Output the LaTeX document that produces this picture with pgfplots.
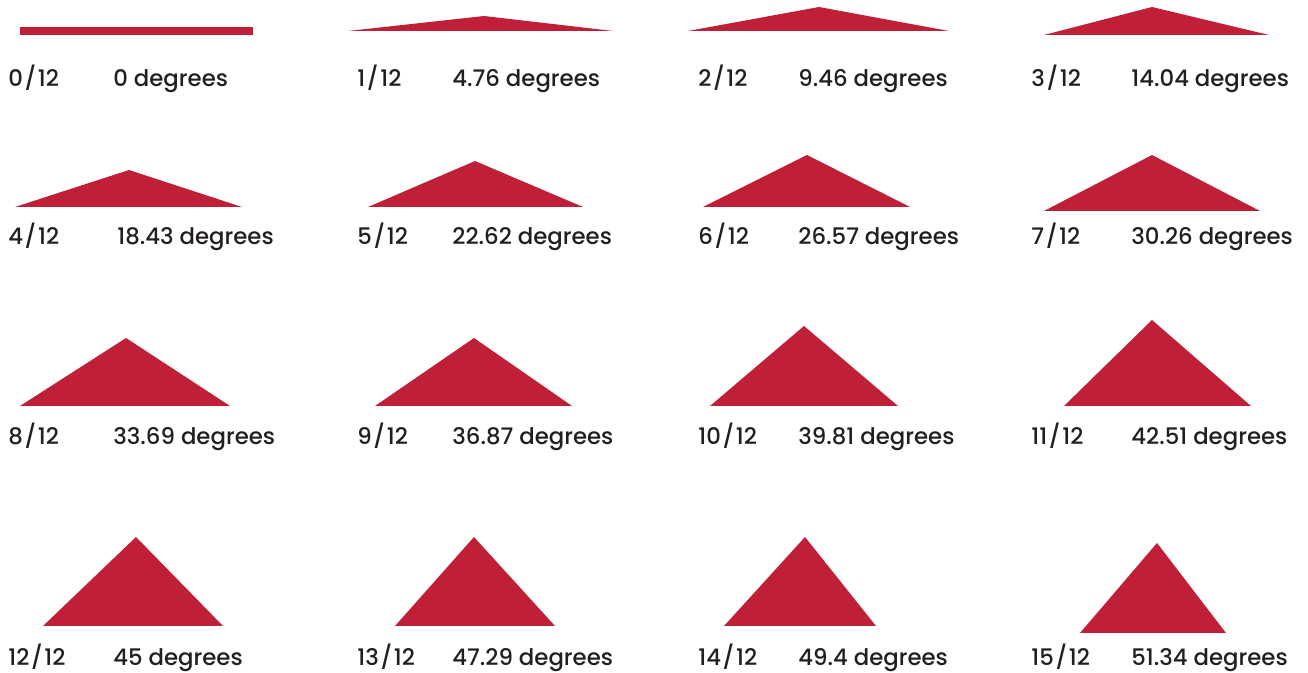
\documentclass[border=0pt]{standalone}
\usepackage{pgfplots}
\pgfplotsset{compat=1.18}
\usepackage{fontspec}
\setmainfont{Poppins Medium}
\definecolor{roofred}{HTML}{C01F38}
\definecolor{labelgray}{HTML}{231F20}
\newcommand{\slsh}{\kern0.8pt/\kern0.8pt}
\begin{document}
\begin{tikzpicture}
\begin{axis}[
    scale only axis,
    width=654pt, height=336.5pt,
    xmin=0, xmax=1308, ymin=0, ymax=673,
    y dir=reverse,
    hide axis,
    clip=false,
  ]
  % pitch shapes, pixel coordinates (y down)
  \addplot[fill=roofred, draw=none] coordinates {(20,27) (253,27) (253,35) (20,35)} --cycle;
  \addplot[fill=roofred, draw=none] coordinates {(348,31) (484,16) (613,31)} --cycle;
  \addplot[fill=roofred, draw=none] coordinates {(688,31) (819,7) (949,31)} --cycle;
  \addplot[fill=roofred, draw=none] coordinates {(1044,35) (1152,7) (1269,35)} --cycle;
  \addplot[fill=roofred, draw=none] coordinates {(15,207) (129,170) (242,207)} --cycle;
  \addplot[fill=roofred, draw=none] coordinates {(368,207) (475,161) (583,207)} --cycle;
  \addplot[fill=roofred, draw=none] coordinates {(703,207) (807,155) (910,207)} --cycle;
  \addplot[fill=roofred, draw=none] coordinates {(1044,211) (1152,155) (1260,211)} --cycle;
  \addplot[fill=roofred, draw=none] coordinates {(20,406) (126,338) (230,406)} --cycle;
  \addplot[fill=roofred, draw=none] coordinates {(375,406) (474,338) (572,406)} --cycle;
  \addplot[fill=roofred, draw=none] coordinates {(710,406) (804,326) (898,406)} --cycle;
  \addplot[fill=roofred, draw=none] coordinates {(1064,406) (1152,320) (1251,406)} --cycle;
  \addplot[fill=roofred, draw=none] coordinates {(43,626) (136,537) (223,626)} --cycle;
  \addplot[fill=roofred, draw=none] coordinates {(395,626) (474,537) (555,626)} --cycle;
  \addplot[fill=roofred, draw=none] coordinates {(724,626) (805,537) (876,626)} --cycle;
  \addplot[fill=roofred, draw=none] coordinates {(1080,633) (1157,543) (1226,633)} --cycle;
  % labels
  \addplot[draw=none, nodes near coords, point meta=explicit symbolic,
    every node near coord/.style={anchor=base west, inner sep=0pt, text=labelgray, font=\fontsize{11.4}{13}\selectfont}]
    coordinates {
      (8,87)[0\slsh 12] (113,87)[0 degrees]
      (357,87)[1\slsh 12] (452,87)[4.76 degrees]
      (698,87)[2\slsh 12] (798,87)[9.46 degrees]
      (1031,87)[3\slsh 12] (1131,87)[14.04 degrees]
      (8,245)[4\slsh 12] (117,245)[18.43 degrees]
      (357,245)[5\slsh 12] (452,245)[22.62 degrees]
      (698,245)[6\slsh 12] (798,245)[26.57 degrees]
      (1031,245)[7\slsh 12] (1131,245)[30.26 degrees]
      (8,445)[8\slsh 12] (113,445)[33.69 degrees]
      (357,445)[9\slsh 12] (452,445)[36.87 degrees]
      (698,445)[10\slsh 12] (798,445)[39.81 degrees]
      (1031,445)[11\slsh 12] (1131,445)[42.51 degrees]
      (8,666)[12\slsh 12] (113,666)[45 degrees]
      (357,666)[13\slsh 12] (452,666)[47.29 degrees]
      (698,666)[14\slsh 12] (798,666)[49.4 degrees]
      (1031,666)[15\slsh 12] (1131,666)[51.34 degrees]
    };
  \path (rel axis cs:0,0) rectangle (rel axis cs:1,1);
\end{axis}
\end{tikzpicture}
\end{document}
